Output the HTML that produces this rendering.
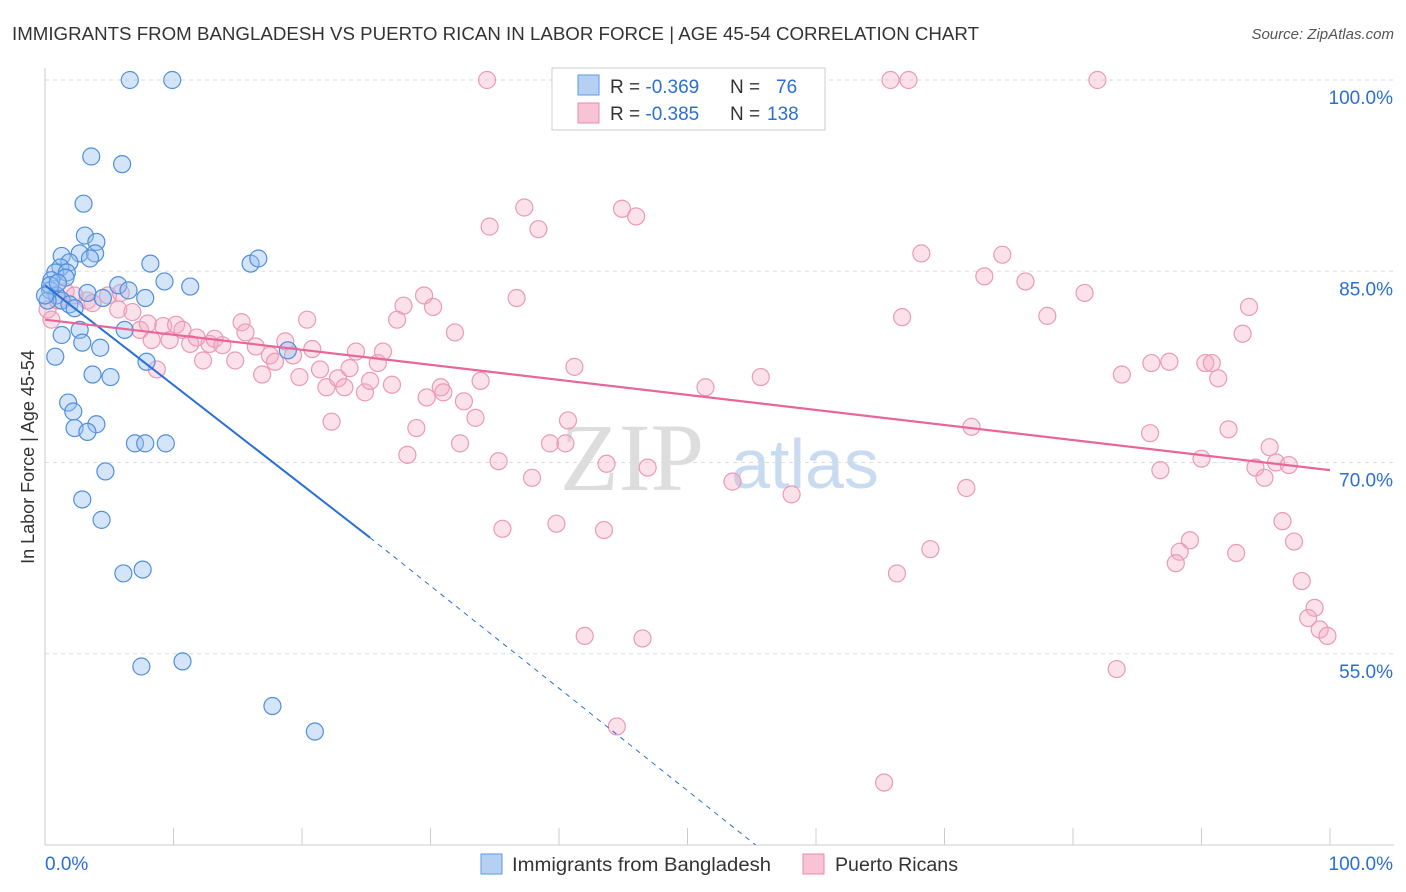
<!DOCTYPE html>
<html><head><meta charset="utf-8"><style>
body{margin:0;background:#fff;font-family:"Liberation Sans",sans-serif;}
svg{display:block}
</style></head><body>
<svg id="chart" width="1406" height="892" xmlns="http://www.w3.org/2000/svg">
<text x="12" y="40" font-size="18" fill="#333" textLength="967" lengthAdjust="spacingAndGlyphs">IMMIGRANTS FROM BANGLADESH VS PUERTO RICAN IN LABOR FORCE | AGE 45-54 CORRELATION CHART</text>
<text x="1394" y="39" font-size="15" fill="#555" font-style="italic" text-anchor="end">Source: ZipAtlas.com</text>
<g><text x="632" y="490" font-size="96" fill="#ddd" font-family="Liberation Serif,serif" text-anchor="middle">ZIP</text><text x="805" y="488" font-size="70" fill="#c9dbf0" text-anchor="middle">atlas</text></g>
<g id="grid"></g>
<g id="axes"></g>
<g id="pts"></g>
<g id="trend"></g>
<g>
<rect x="552" y="68" width="273" height="62" fill="#fff" stroke="#ccc"/>
<rect x="578" y="75" width="21" height="20" fill="#b5d0f3" stroke="#5b9be0"/>
<rect x="578" y="103" width="21" height="20" fill="#f8c3d4" stroke="#e88aaa"/>
<text x="610" y="93" font-size="19" fill="#333">R = <tspan fill="#2a6fd6">-0.369</tspan><tspan x="730">N = </tspan><tspan x="776" fill="#2a6fd6">76</tspan></text>
<text x="610" y="120" font-size="19" fill="#333">R = <tspan fill="#2a6fd6">-0.385</tspan><tspan x="730">N = </tspan><tspan x="767" fill="#2a6fd6">138</tspan></text>
</g>
<g>
<rect x="481" y="854" width="21" height="20" fill="#b5d0f3" stroke="#5b9be0"/>
<text x="512" y="871" font-size="19" fill="#333" textLength="259" lengthAdjust="spacingAndGlyphs">Immigrants from Bangladesh</text>
<rect x="803" y="854" width="21" height="20" fill="#f8c3d4" stroke="#e88aaa"/>
<text x="835" y="871" font-size="19" fill="#333" textLength="123" lengthAdjust="spacingAndGlyphs">Puerto Ricans</text>
</g>
<text transform="translate(34,457) rotate(-90)" font-size="18" fill="#333" text-anchor="middle">In Labor Force | Age 45-54</text>
</svg>
<script>
const yTicks=[100,85,70,55];
const yTickLabels=["100.0%","85.0%","70.0%","55.0%"];
const blueX=[6.6,9.9,3.6,6.0,3.0,3.1,4.0,2.7,1.3,3.9,3.5,1.9,1.2,0.8,1.7,1.6,0.5,8.2,9.3,11.3,16.0,16.6,5.7,6.5,7.8,0.4,0.9,1.3,1.9,2.3,3.3,4.5,0.2,6.2,1.3,2.7,2.9,4.3,0.8,7.9,3.7,5.1,1.8,2.2,4.0,2.3,3.3,7.0,7.8,9.4,4.7,2.9,4.4,6.1,7.6,7.5,10.7,17.7,21.0,18.9,0.4,1.0,0];
const blueY=[100,100,94.0,93.4,90.3,87.8,87.3,86.4,86.2,86.4,86.0,85.7,85.3,84.9,84.9,84.5,84.3,85.6,84.2,83.8,85.6,86.0,83.9,83.5,82.9,83.5,83.1,82.7,82.4,82.1,83.3,82.9,82.7,80.4,80.0,80.4,79.4,79.0,78.3,77.9,76.9,76.7,74.7,74.0,73.0,72.7,72.4,71.5,71.5,71.5,69.3,67.1,65.5,61.3,61.6,54.0,54.4,50.9,48.9,78.8,83.9,84.1,83.1];
const pinkX=[34.4,65.8,67.2,81.9,49.6,37.3,44.9,46.0,34.6,38.4,68.2,74.5,73.1,76.3,80.9,93.7,36.7,29.5,27.9,30.2,66.7,78.0,27.4,20.4,15.3,31.9,93.2,86.1,87.5,90.3,90.8,83.8,91.3,41.2,55.7,51.4,33.9,30.8,31.0,29.7,32.6,33.5,40.7,72.1,28.9,22.3,92.1,86.0,39.3,40.5,32.3,95.3,28.2,90.0,95.8,96.8,94.2,86.8,35.3,43.7,46.9,37.9,53.5,94.9,71.7,58.1,96.3,35.6,39.8,43.5,68.9,89.1,88.3,92.7,97.2,88.0,66.3,97.8,98.8,98.3,99.2,99.8,42.0,46.5,83.4,44.5,65.3,0.2,0.5,1.0,1.6,2.3,3.3,3.7,4.9,5.7,6.8,5.9,7.4,8.0,9.2,10.2,10.7,8.3,9.7,11.3,11.8,12.3,12.8,13.2,13.8,14.8,15.6,16.4,16.9,17.5,17.9,18.7,19.3,19.8,20.8,21.4,21.9,22.8,23.3,23.7,24.2,24.9,25.3,25.9,26.3,27.0,8.7];
const pinkY=[100,100,100,100,100,90.0,89.9,89.3,88.5,88.3,86.4,86.3,84.6,84.2,83.3,82.2,82.9,83.1,82.3,82.2,81.4,81.5,81.2,81.2,81.0,80.2,80.1,77.8,77.9,77.8,77.8,76.9,76.6,77.5,76.7,75.9,76.4,75.9,75.5,75.1,74.8,73.5,73.3,72.8,72.7,73.2,72.6,72.3,71.5,71.5,71.5,71.2,70.6,70.3,70.0,69.8,69.6,69.4,70.1,69.9,69.6,68.8,68.5,68.8,68.0,67.5,65.4,64.8,65.2,64.7,63.2,63.9,63.0,62.9,63.8,62.1,61.3,60.7,58.6,57.8,56.9,56.4,56.4,56.2,53.8,49.3,44.9,82.0,81.2,82.7,83.4,83.1,82.7,82.5,83.1,82.0,81.8,83.3,80.4,80.9,80.7,80.8,80.4,79.6,79.6,79.3,79.8,78.0,79.3,79.7,79.2,78.0,80.2,79.1,76.9,78.4,77.9,79.5,78.4,76.7,78.9,77.3,75.9,76.6,75.9,77.4,78.7,75.5,76.4,77.8,78.7,76.1,77.3];
const blueTrend=[0,83.9,25.3,64.1,55.3,40];
const pinkTrend=[0,81.2,100,69.4];
const NS="http://www.w3.org/2000/svg";
const X=v=>45+v*12.85, Y=v=>80+(100-v)*12.75;
function mk(t,a,p){const e=document.createElementNS(NS,t);for(const k in a)e.setAttribute(k,a[k]);p.appendChild(e);return e;}
const grid=document.getElementById('grid'),axes=document.getElementById('axes'),pts=document.getElementById('pts'),tr=document.getElementById('trend');
yTicks.forEach((v,i)=>{
 const l=mk('line',{x1:45,x2:1394,y1:Y(v),y2:Y(v),stroke:'#ddd','stroke-dasharray':'4,4'},grid);
 
 
 const t=mk('text',{x:1393,y:Y(v)+24,'font-size':19,fill:'#2a6fd6','text-anchor':'end'},axes);
 t.textContent=yTickLabels[i];
 
 
});
mk('line',{x1:45,x2:45,y1:68,y2:845,stroke:'#ccc'},axes);
mk('line',{x1:45,x2:1394,y1:845,y2:845,stroke:'#ccc'},axes);
for(let i=0;i<=10;i++){mk('line',{x1:X(i*10),x2:X(i*10),y1:828,y2:845,stroke:'#ccc'},axes);}
const t0=mk('text',{x:45,y:870,'font-size':19,fill:'#2a6fd6'},axes);t0.textContent='0.0%';


const t1=mk('text',{x:1393,y:870,'font-size':19,fill:'#2a6fd6','text-anchor':'end'},axes);t1.textContent='100.0%';


pinkX.forEach((v,i)=>{const c=mk('circle',{cx:X(v),cy:Y(pinkY[i]),r:8.5,fill:'rgba(244,170,196,0.35)',stroke:'#eb9ab6','stroke-width':1.2},pts);
 
 });
blueX.forEach((v,i)=>{const c=mk('circle',{cx:X(v),cy:Y(blueY[i]),r:8.5,fill:'rgba(150,190,240,0.4)',stroke:'#4f8fdc','stroke-width':1.2},pts);
 
 });
const b1=mk('line',{x1:X(blueTrend[0]),y1:Y(blueTrend[1]),x2:X(blueTrend[2]),y2:Y(blueTrend[3]),stroke:'#2a6fd6','stroke-width':2},tr);


const b2=mk('line',{x1:X(blueTrend[2]),y1:Y(blueTrend[3]),x2:X(blueTrend[4]),y2:Y(blueTrend[5]),stroke:'#2a6fd6','stroke-width':1,'stroke-dasharray':'5,5'},tr);


const p1=mk('line',{x1:X(pinkTrend[0]),y1:Y(pinkTrend[1]),x2:X(pinkTrend[2]),y2:Y(pinkTrend[3]),stroke:'#e8679a','stroke-width':2.2},tr);


</script>
</body></html>
